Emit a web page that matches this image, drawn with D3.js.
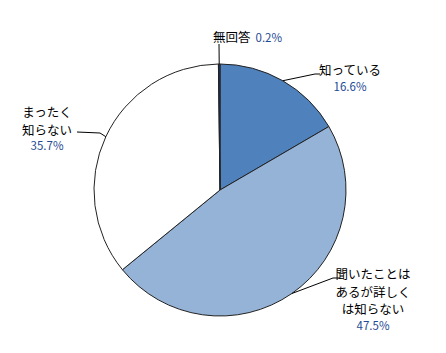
<!DOCTYPE html>
<html>
<head>
<meta charset="utf-8">
<script src="https://cdn.jsdelivr.net/npm/d3@7"></script>
<style>
  body { margin: 0; background: #fff; }
  text { font-family: "Noto Sans CJK JP", "Noto Sans", sans-serif; }
</style>
</head>
<body>
<div id="chart"></div>
<script>
// Awareness survey pie (values in %)
const categories = ["知っている", "聞いたことはあるが詳しくは知らない", "まったく知らない", "無回答"];
const values = [16.6, 47.5, 35.7, 0.2];
const labelLines = [["知っている"], ["聞いたことは", "あるが詳しく", "は知らない"], ["まったく", "知らない"], ["無回答"]];
const colors = ["#4F81BD", "#95B3D7", "#FFFFFF", "#1F3864"];

const width = 446, height = 353;
const cx = 220, cy = 190, radius = 126;

const data = categories.map((c, i) => ({ name: c, value: values[i], lines: labelLines[i], color: colors[i] }));

let svg = d3.select("#chart")
    .append("svg")
    .attr("width", width)
    .attr("height", height);

let g = svg.append("g")
    .attr("transform", `translate(${cx},${cy})`);

let pie = d3.pie()
    .sort(null)
    .value(d => d.value);

let arc = d3.arc()
    .innerRadius(0)
    .outerRadius(radius);

let arcs = pie(data);

// slices
g.selectAll("path.slice")
    .data(arcs)
    .join("path")
    .attr("class", "slice")
    .attr("d", arc)
    .attr("fill", d => d.data.color)
    .attr("stroke", "#222")
    .attr("stroke-width", 1);

// leader line elbows and label placement (relative to center)
const layout = [
    { elbow: [95, -116], end: [100, -116], tx: 130, ty: -115 },
    { elbow: [113, 88], end: [120, 88], tx: 153, ty: 89 },
    { elbow: [-120, -57], end: [-143, -58], tx: -173, ty: -73 },
    { elbow: [-1, -146], end: [-1, -146], tx: -7, ty: -148 }
];

const pctFmt = d => d.toFixed(1) + "%";

arcs.forEach((d, i) => {
    const mid = (d.startAngle + d.endAngle) / 2;
    const p0 = [radius * Math.sin(mid), -radius * Math.cos(mid)];
    const L = layout[i];
    g.append("polyline")
        .attr("points", [p0, L.elbow, L.end].map(p => p.join(",")).join(" "))
        .attr("fill", "none")
        .attr("stroke", "#000")
        .attr("stroke-width", 1);

    if (i === 3) {
        // single-line label: name + value
        let t = g.append("text")
            .attr("x", L.tx)
            .attr("y", L.ty)
            .attr("font-size", 12.5);
        t.append("tspan").attr("fill", "#000").text(d.data.lines[0]);
        t.append("tspan").attr("dx", 5).attr("font-size", 11.5).attr("fill", "#1F4A94").text(pctFmt(d.data.value));
        return;
    }

    d.data.lines.forEach((ln, k) => {
        g.append("text")
            .attr("x", L.tx)
            .attr("y", L.ty + k * 17.5)
            .attr("text-anchor", "middle")
            .attr("font-size", 12.5)
            .attr("fill", "#000")
            .text(ln);
    });
    g.append("text")
        .attr("x", L.tx)
        .attr("y", L.ty + d.data.lines.length * 17.5 - 2)
        .attr("text-anchor", "middle")
        .attr("font-size", 11.5)
        .attr("fill", "#1F4A94")
        .text(pctFmt(d.data.value));
});
</script>
</body>
</html>
